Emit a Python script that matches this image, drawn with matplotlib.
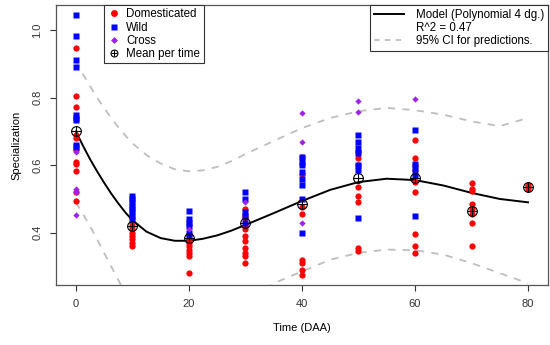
import numpy as np
import matplotlib
matplotlib.use("Agg")
import matplotlib.pyplot as plt
from matplotlib.lines import Line2D

plt.rcParams['font.family'] = ['Liberation Sans', 'DejaVu Sans']

# ── data ─────────────────────────────────────────────────────────────────
dom_t = [0] * 11 + [10] * 8 + [20] * 8 + [30] * 11 + [40] * 8 + [50] * 8 + [60] * 9 + [70] * 8 + [80] * 3
dom_y = [0.949, 0.806, 0.773, 0.69, 0.68, 0.645, 0.61, 0.605, 0.583, 0.52, 0.493,
         0.43, 0.42, 0.41, 0.40, 0.39, 0.38, 0.37, 0.36,
         0.395, 0.38, 0.37, 0.36, 0.35, 0.34, 0.33, 0.28,
         0.47, 0.45, 0.445, 0.42, 0.41, 0.39, 0.375, 0.355, 0.34, 0.33, 0.31,
         0.625, 0.575, 0.475, 0.455, 0.32, 0.31, 0.29, 0.275,
         0.64, 0.62, 0.60, 0.535, 0.51, 0.49, 0.355, 0.345,
         0.675, 0.62, 0.60, 0.585, 0.55, 0.52, 0.397, 0.36, 0.34,
         0.548, 0.53, 0.525, 0.485, 0.47, 0.455, 0.43, 0.362,
         0.54, 0.535, 0.53]

wild_t = [0] * 9 + [10] * 8 + [20] * 6 + [30] * 5 + [40] * 8 + [50] * 7 + [60] * 5
wild_y = [1.044, 0.983, 0.913, 0.890, 0.75, 0.74, 0.735, 0.66, 0.655,
          0.51, 0.50, 0.49, 0.48, 0.47, 0.46, 0.45, 0.44,
          0.465, 0.44, 0.43, 0.42, 0.40, 0.39,
          0.52, 0.50, 0.46, 0.45, 0.43,
          0.625, 0.61, 0.60, 0.58, 0.56, 0.54, 0.50, 0.40,
          0.69, 0.67, 0.65, 0.635, 0.60, 0.585, 0.445,
          0.705, 0.605, 0.59, 0.57, 0.45]

cross_t = [0, 0, 0, 0, 20, 30, 40, 40, 40, 50, 50, 60]
cross_y = [0.64, 0.53, 0.52, 0.453, 0.41, 0.49, 0.755, 0.67, 0.43, 0.79, 0.757, 0.796]

mean_t = [0, 10, 20, 30, 40, 50, 60, 70, 80]
mean_y = [0.70, 0.42, 0.385, 0.43, 0.485, 0.563, 0.563, 0.465, 0.535]

# model curve and prediction interval
curve_t = [0, 1.25, 2.5, 3.75, 5, 6.25, 7.5, 8.75, 10, 12.5, 15, 17.5, 20, 22.5, 25, 27.5,
           30, 35, 40, 45, 50, 55, 60, 65, 70, 75, 80]
model_y = [0.70, 0.658, 0.618, 0.582, 0.548, 0.516, 0.487, 0.46, 0.437, 0.403, 0.384, 0.376,
           0.376, 0.382, 0.392, 0.406, 0.423, 0.458, 0.494, 0.527, 0.55, 0.56, 0.556,
           0.54, 0.518, 0.5, 0.49]
upper_y = [0.91, 0.87, 0.835, 0.80, 0.77, 0.74, 0.713, 0.688, 0.665, 0.63, 0.605, 0.588,
           0.582, 0.585, 0.595, 0.612, 0.633, 0.672, 0.71, 0.74, 0.76, 0.77, 0.763,
           0.75, 0.73, 0.716, 0.74]
lower_y = [0.49, 0.455, 0.42, 0.38, 0.34, 0.30, 0.26, 0.22, 0.18, 0.14, 0.12, 0.105,
           0.10, 0.105, 0.12, 0.15, 0.19, 0.25, 0.285, 0.32, 0.34, 0.35, 0.348,
           0.335, 0.31, 0.28, 0.25]

# ── plot ─────────────────────────────────────────────────────────────────
fig = plt.figure(figsize=(5.5, 3.45), dpi=100)
ax = fig.add_axes([0.102, 0.174, 0.894, 0.8115])

ax.plot(curve_t, upper_y, color='#BEBEBE', lw=1.3, ls=(0, (4, 4)))
ax.plot(curve_t, lower_y, color='#BEBEBE', lw=1.3, ls=(0, (4, 4)))
ax.plot(curve_t, model_y, color='black', lw=1.4)

ax.plot(dom_t, dom_y, 'o', color='#FF0000', ms=4.5, mec='none', ls='none')
ax.plot(wild_t, wild_y, 's', color='#0000FF', ms=4.5, mec='none', ls='none')
ax.plot(cross_t, cross_y, 'D', color='#A020F0', ms=3.2, mec='none', ls='none')
ax.plot(mean_t, mean_y, 'o', mfc='none', mec='black', ms=7, mew=0.8, ls='none')
ax.plot(mean_t, mean_y, '+', color='black', ms=7, mew=0.8, ls='none')

ax.set_xlim(-3.5, 83.5)
ax.set_ylim(0.245, 1.075)
ax.set_xticks([0, 20, 40, 60, 80])
ax.set_yticks([0.4, 0.6, 0.8, 1.0])
ax.set_yticklabels(['0.4', '0.6', '0.8', '1.0'], rotation=90, va='center')
ax.tick_params(labelsize=8, length=4, width=0.8, colors='#333333', pad=6)
for s in ax.spines.values():
    s.set_color('#555555')
    s.set_linewidth(0.9)
ax.set_xlabel('Time (DAA)', fontsize=8, labelpad=10)
ax.set_ylabel('Specialization', fontsize=8, labelpad=8)

# left legend: groups
h1 = [Line2D([], [], marker='o', color='#FF0000', ms=5, mec='none', ls='none'),
      Line2D([], [], marker='s', color='#0000FF', ms=5, mec='none', ls='none'),
      Line2D([], [], marker='D', color='#A020F0', ms=3.5, mec='none', ls='none'),
      (Line2D([], [], marker='o', mfc='none', mec='black', ms=5, mew=0.8, ls='none'),
       Line2D([], [], marker='+', color='black', ms=5, mew=0.8, ls='none'))]
leg1 = ax.legend(h1, ['Domesticated', 'Wild', 'Cross', 'Mean per time'],
                 loc='upper left', bbox_to_anchor=(0.098, 1.0), borderaxespad=0,
                 fontsize=8.3, fancybox=False, edgecolor='#333333', framealpha=1,
                 handlelength=1.0, handletextpad=0.6, labelspacing=0.1,
                 borderpad=0.3)
leg1.get_frame().set_linewidth(0.8)
ax.add_artist(leg1)

# right legend: model
h2 = [Line2D([], [], color='black', lw=1.4),
      Line2D([], [], color='none'),
      Line2D([], [], color='#BEBEBE', lw=1.3, ls=(0, (3, 3)))]
leg2 = ax.legend(h2, ['Model (Polynomial 4 dg.)', 'R^2 = 0.47', '95% CI for predictions.'],
                 loc='upper right', borderaxespad=0, fontsize=8.3, fancybox=False,
                 edgecolor='#333333', framealpha=1, handlelength=2.6,
                 handletextpad=1.0, labelspacing=0.1, borderpad=0.35)
leg2.get_frame().set_linewidth(0.8)

fig.savefig('out.png', dpi=100)
